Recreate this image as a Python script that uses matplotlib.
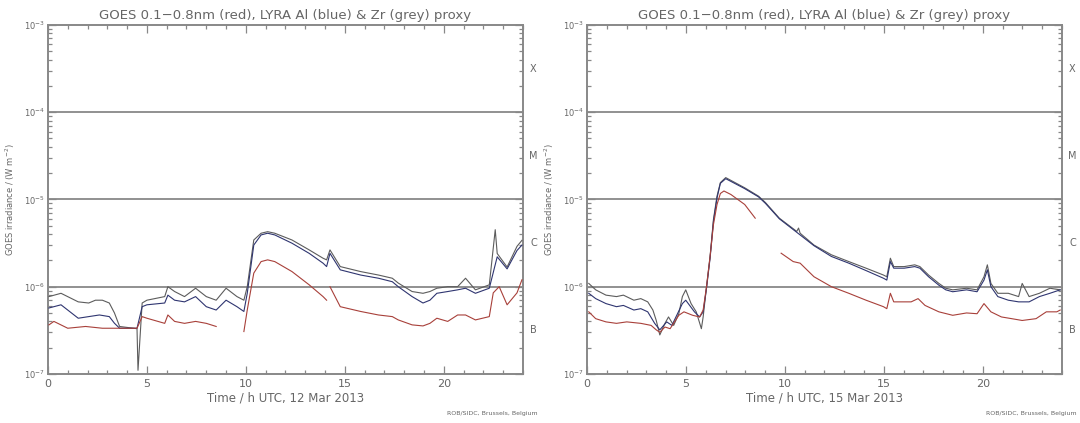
import matplotlib
matplotlib.use("Agg")
import matplotlib.pyplot as plt
import numpy as np
from matplotlib.ticker import MultipleLocator, LogLocator, NullFormatter

nan = np.nan

# ---- 12 Mar 2013 ----
h12_zr = [0.05, 0.66, 1.53, 2.06, 2.4, 2.75, 3.1, 3.36, 3.62, 4.5, 4.55, 4.76, 5.0, 5.9, 6.06,
          6.4, 6.9, 7.46, 8.0, 8.5, 9.0, 9.55, 9.9, 10.07, 10.4, 10.77, 11.1, 11.46, 12.33,
          13.2, 13.9, 14.08, 14.25, 14.77, 15.8, 16.7, 17.4, 17.7, 18.4, 18.95, 19.3, 19.65,
          20.2, 20.7, 21.1, 21.6, 22.3, 22.6, 22.7, 23.2, 23.7, 23.95]
zr12 = [7.7e-7, 8.4e-7, 6.7e-7, 6.5e-7, 7.0e-7, 7.0e-7, 6.5e-7, 5.0e-7, 3.5e-7, 3.3e-7, 1.1e-7,
        6.5e-7, 7.0e-7, 7.7e-7, 1.0e-6, 8.8e-7, 7.7e-7, 9.6e-7, 7.7e-7, 7.0e-7, 9.6e-7, 7.7e-7,
        7.0e-7, 1.0e-6, 3.43e-6, 4.1e-6, 4.27e-6, 4.1e-6, 3.43e-6, 2.64e-6, 2.12e-6, 2.03e-6,
        2.64e-6, 1.7e-6, 1.49e-6, 1.36e-6, 1.25e-6, 1.1e-6, 8.8e-7, 8.4e-7, 8.8e-7, 9.6e-7,
        1.0e-6, 1.0e-6, 1.25e-6, 9.2e-7, 1.05e-6, 4.5e-6, 2.4e-6, 1.68e-6, 2.9e-6, 3.4e-6]

h12_al = [0.05, 0.66, 1.53, 2.06, 2.6, 3.1, 3.36, 3.62, 4.5, 4.76, 5.0, 5.9, 6.06, 6.4, 6.9,
          7.46, 8.0, 8.5, 9.0, 9.55, 9.9, 10.07, 10.4, 10.77, 11.1, 11.46, 12.33, 13.2, 13.9,
          14.08, 14.25, 14.77, 15.8, 16.7, 17.4, 17.7, 18.4, 18.95, 19.3, 19.65, 20.2, 20.7,
          21.1, 21.6, 22.3, 22.7, 23.2, 23.7, 23.95]
al12 = [5.7e-7, 6.2e-7, 4.35e-7, 4.54e-7, 4.74e-7, 4.54e-7, 3.81e-7, 3.34e-7, 3.34e-7, 5.9e-7,
        6.2e-7, 6.5e-7, 8.0e-7, 7.0e-7, 6.7e-7, 7.7e-7, 5.9e-7, 5.4e-7, 7.0e-7, 5.9e-7, 5.2e-7,
        8.4e-7, 3.0e-6, 3.92e-6, 4.1e-6, 3.92e-6, 3.15e-6, 2.41e-6, 1.86e-6, 1.7e-6, 2.41e-6,
        1.56e-6, 1.36e-6, 1.25e-6, 1.14e-6, 1.0e-6, 7.7e-7, 6.5e-7, 7.0e-7, 8.4e-7, 8.8e-7,
        9.2e-7, 9.6e-7, 8.4e-7, 9.6e-7, 2.2e-6, 1.6e-6, 2.6e-6, 3.0e-6]

h12_goes = [0.05, 0.3, 1.0, 1.9, 2.75, 3.62, 4.5, 4.76, 5.0, 5.9, 6.06, 6.4, 6.9, 7.46, 8.0,
            8.5, 9.2, 9.9, 10.07, 10.4, 10.77, 11.1, 11.46, 12.33, 13.2, 13.9, 14.08, 14.17,
            14.25, 14.77, 15.8, 16.7, 17.4, 17.7, 18.4, 18.95, 19.3, 19.65, 20.2, 20.7, 21.1,
            21.6, 22.3, 22.5, 22.8, 23.2, 23.7, 23.95]
goes12 = [3.65e-7, 4.0e-7, 3.34e-7, 3.5e-7, 3.34e-7, 3.34e-7, 3.34e-7, 4.54e-7, 4.35e-7, 3.8e-7,
          4.74e-7, 4.0e-7, 3.8e-7, 4.0e-7, 3.8e-7, 3.5e-7, nan, 3.06e-7, 5.4e-7, 1.43e-6,
          1.94e-6, 2.03e-6, 1.94e-6, 1.49e-6, 1.05e-6, 7.7e-7, 7.0e-7, nan, 1.0e-6, 5.9e-7,
          5.2e-7, 4.74e-7, 4.54e-7, 4.16e-7, 3.65e-7, 3.55e-7, 3.8e-7, 4.35e-7, 4.0e-7, 4.74e-7,
          4.74e-7, 4.16e-7, 4.54e-7, 8.5e-7, 1.0e-6, 6.2e-7, 8.5e-7, 1.2e-6]

# ---- 15 Mar 2013 ----
h15_zr = [0.09, 0.44, 0.96, 1.49, 1.84, 2.37, 2.72, 3.07, 3.33, 3.5, 3.68, 3.94, 4.12, 4.38,
          4.64, 4.82, 4.99, 5.26, 5.52, 5.78, 5.87, 6.04, 6.22, 6.39, 6.57, 6.74, 7.01, 7.97,
          8.67, 9.02, 9.72, 10.6, 10.69, 10.77, 11.47, 12.35, 13.23, 14.1, 14.98, 15.15, 15.33,
          15.5, 16.03, 16.56, 16.82, 17.26, 17.78, 18.13, 18.48, 19.18, 19.71, 20.06, 20.23,
          20.41, 20.76, 21.29, 21.81, 21.99, 22.34, 22.86, 23.39, 23.91]
zr15 = [1.09e-6, 9.2e-7, 8.0e-7, 7.7e-7, 8.0e-7, 7.0e-7, 7.3e-7, 6.7e-7, 5.4e-7, 4.1e-7, 2.8e-7,
        3.8e-7, 4.5e-7, 3.6e-7, 4.9e-7, 7.7e-7, 9.2e-7, 6.4e-7, 5.15e-7, 3.3e-7, 4.5e-7, 1.0e-6,
        2.22e-6, 5.9e-6, 1.09e-5, 1.56e-5, 1.78e-5, 1.36e-5, 1.09e-5, 9.2e-6, 6.1e-6, 4.3e-6,
        4.7e-6, 4.1e-6, 3.0e-6, 2.32e-6, 1.94e-6, 1.63e-6, 1.36e-6, 1.3e-6, 2.12e-6, 1.7e-6,
        1.7e-6, 1.78e-6, 1.7e-6, 1.36e-6, 1.09e-6, 9.6e-7, 9.2e-7, 9.6e-7, 9.2e-7, 1.3e-6,
        1.78e-6, 1.09e-6, 8.4e-7, 8.4e-7, 7.7e-7, 1.09e-6, 7.7e-7, 8.4e-7, 9.6e-7, 9.2e-7]

h15_al = [0.09, 0.44, 0.96, 1.49, 1.84, 2.37, 2.72, 3.07, 3.42, 3.68, 4.03, 4.29, 4.82, 4.99,
          5.43, 5.69, 5.87, 6.04, 6.22, 6.39, 6.57, 6.74, 7.01, 7.97, 8.67, 9.02, 9.72, 10.6,
          11.47, 12.35, 13.23, 14.1, 14.98, 15.15, 15.33, 15.5, 16.03, 16.56, 16.82, 17.26,
          17.78, 18.13, 18.48, 19.18, 19.71, 20.06, 20.23, 20.41, 20.76, 21.29, 21.81, 22.34,
          22.86, 23.39, 23.91]
al15 = [8.4e-7, 7.3e-7, 6.4e-7, 5.9e-7, 6.1e-7, 5.4e-7, 5.6e-7, 5.15e-7, 3.8e-7, 3.2e-7, 3.95e-7,
        3.6e-7, 6.4e-7, 7.0e-7, 5.15e-7, 4.5e-7, 5.15e-7, 9.6e-7, 2.12e-6, 5.6e-6, 1.04e-5,
        1.53e-5, 1.73e-5, 1.33e-5, 1.07e-5, 9.0e-6, 6.0e-6, 4.2e-6, 2.95e-6, 2.22e-6, 1.86e-6,
        1.53e-6, 1.25e-6, 1.19e-6, 1.94e-6, 1.63e-6, 1.63e-6, 1.7e-6, 1.63e-6, 1.3e-6, 1.04e-6,
        9.2e-7, 8.75e-7, 9.2e-7, 8.75e-7, 1.19e-6, 1.56e-6, 1.0e-6, 7.7e-7, 7.0e-7, 6.7e-7,
        6.7e-7, 7.7e-7, 8.4e-7, 9.2e-7]

h15_goes = [0.09, 0.44, 0.96, 1.49, 2.01, 2.72, 3.24, 3.5, 3.68, 3.94, 4.2, 4.64, 4.9, 5.34,
            5.69, 5.87, 6.04, 6.22, 6.39, 6.57, 6.74, 6.92, 7.27, 7.97, 8.5, 9.2, 9.81, 10.42,
            10.77, 11.47, 12.35, 13.23, 14.1, 14.98, 15.15, 15.33, 15.5, 16.38, 16.73, 17.08,
            17.78, 18.48, 19.18, 19.71, 20.06, 20.41, 20.94, 21.46, 21.99, 22.69, 23.21, 23.74,
            23.91]
goes15 = [5.15e-7, 4.3e-7, 3.95e-7, 3.8e-7, 3.95e-7, 3.8e-7, 3.6e-7, 3.2e-7, 3.0e-7, 3.45e-7,
          3.3e-7, 4.7e-7, 5.15e-7, 4.7e-7, 4.5e-7, 5.4e-7, 1.0e-6, 2.22e-6, 5.15e-6, 8.75e-6,
          1.17e-5, 1.25e-5, 1.14e-5, 8.75e-6, 6.1e-6, nan, 2.42e-6, 1.94e-6, 1.86e-6, 1.3e-6,
          1.0e-6, 8.4e-7, 7.0e-7, 5.9e-7, 5.6e-7, 8.4e-7, 6.7e-7, 6.7e-7, 7.3e-7, 6.1e-7,
          5.15e-7, 4.7e-7, 5.0e-7, 4.9e-7, 6.4e-7, 5.15e-7, 4.5e-7, 4.3e-7, 4.1e-7, 4.3e-7,
          5.15e-7, 5.15e-7, 5.4e-7]

flare_levels = [1e-6, 1e-5, 1e-4]
flare_classes = ["X", "M", "C", "B"]
class_centres = [10**-3.5, 10**-4.5, 10**-5.5, 10**-6.5]

TXT = "#666666"
AX = "#888888"
RED = "#a8403a"
BLUE = "#2f3570"
GREY = "#5c5c5c"

fig = plt.figure(figsize=(10.8, 4.23), dpi=100)
plt.rcParams["font.family"] = "DejaVu Sans"

panels = [
    (0.0444, "12 Mar 2013", h12_goes, goes12, h12_al, al12, h12_zr, zr12),
    (0.5435, "15 Mar 2013", h15_goes, goes15, h15_al, al15, h15_zr, zr15),
]

for left, date, hg, g, ha, a, hz, z in panels:
    ax = fig.add_axes([left, 0.116, 0.4398, 0.825])
    ax.set_yscale("log")
    ax.set_xlim(0, 24)
    ax.set_ylim(1e-7, 1e-3)

    for lv in flare_levels:
        ax.axhline(lv, color=AX, lw=1.3, zorder=1)

    ax.plot(hz, z, color=GREY, lw=0.8, zorder=3)
    ax.plot(ha, a, color=BLUE, lw=0.8, zorder=3)
    ax.plot(hg, g, color=RED, lw=0.8, zorder=4)

    for sp in ax.spines.values():
        sp.set_color(AX)
        sp.set_linewidth(1.4)

    ax.xaxis.set_major_locator(MultipleLocator(5))
    ax.xaxis.set_minor_locator(MultipleLocator(1))
    ax.yaxis.set_major_locator(LogLocator(base=10, numticks=10))
    ax.yaxis.set_minor_locator(LogLocator(base=10, subs=np.arange(2, 10), numticks=10))
    ax.yaxis.set_minor_formatter(NullFormatter())
    ax.tick_params(which="both", direction="in", top=True, right=True, colors=AX,
                   labelcolor=TXT, width=0.9)
    ax.tick_params(which="major", length=6, labelsize=8)
    ax.tick_params(which="minor", length=3)
    ax.tick_params(axis="y", which="major", labelsize=6, pad=2)

    ax.set_title("GOES 0.1\u22120.8nm (red), LYRA Al (blue) & Zr (grey) proxy",
                 fontsize=9.5, color=TXT, pad=4)
    ax.set_xlabel(f"Time / h UTC, {date}", fontsize=8.5, color=TXT, labelpad=2)
    ax.set_ylabel("GOES irradiance / (W m$^{-2}$)", fontsize=6, color=TXT, labelpad=5)

    for cls, yc in zip(flare_classes, class_centres):
        ax.text(1.022, yc, cls, transform=ax.get_yaxis_transform(), fontsize=7,
                color=TXT, ha="center", va="center")

    ax.text(1.03, -0.105, "ROB/SIDC, Brussels, Belgium", transform=ax.transAxes,
            fontsize=4.5, color=TXT, ha="right", va="top")

fig.savefig("out.png", dpi=100)
